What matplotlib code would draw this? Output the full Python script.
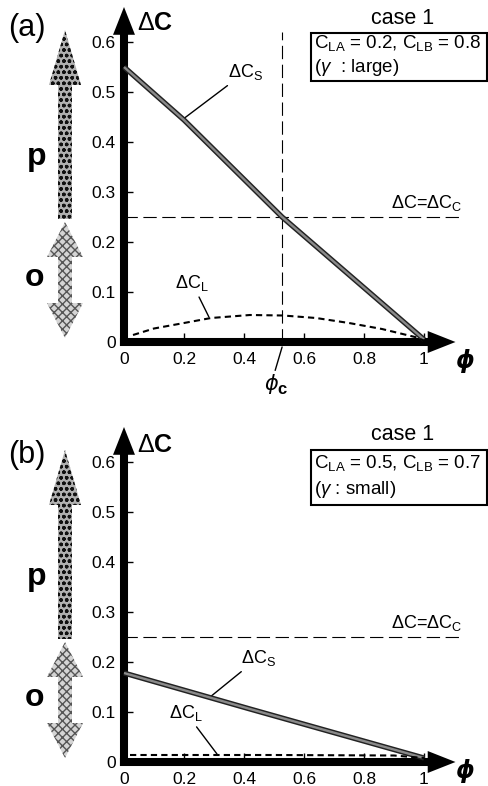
import numpy as np
import matplotlib.pyplot as plt
from matplotlib.patches import FancyArrowPatch, Polygon, Rectangle

plt.rcParams['font.family'] = ['Liberation Sans', 'DejaVu Sans']
plt.rcParams['mathtext.fontset'] = 'custom'
plt.rcParams['mathtext.rm'] = 'Liberation Sans'
plt.rcParams['mathtext.it'] = 'Liberation Sans:italic'
plt.rcParams['mathtext.bf'] = 'Liberation Sans:bold'

# ticks
x_ticks = [0, 0.2, 0.4, 0.6, 0.8, 1.0]
x_labels = ['0', '0.2', '0.4', '0.6', '0.8', '1']
y_ticks = [0, 0.1, 0.2, 0.3, 0.4, 0.5, 0.6]
y_labels = ['0', '0.1', '0.2', '0.3', '0.4', '0.5', '0.6']

dc_crit = 0.25      # dC = dC_c
phi_c = 0.527

# (a) C_LA = 0.2, C_LB = 0.8
phi_s_a = [0.0, 0.2, 0.527, 1.0]
dcs_a = [0.55, 0.444, 0.25, 0.005]
phi_l_a = [0.03, 0.1, 0.2, 0.29, 0.42, 0.53, 0.64, 0.75, 0.86, 0.97, 1.0]
dcl_a = [0.014, 0.027, 0.038, 0.048, 0.054, 0.053, 0.048, 0.038, 0.026, 0.01, 0.003]

# (b) C_LA = 0.5, C_LB = 0.7
phi_s_b = [0.0, 0.42, 1.0]
dcs_b = [0.178, 0.106, 0.008]
phi_l_b = [0.02, 0.5, 0.9, 1.0]
dcl_b = [0.014, 0.014, 0.013, 0.008]

box_a = [r'$\mathrm{C_{LA}}$ = 0.2, $\mathrm{C_{LB}}$ = 0.8', r'($\gamma$  : large)']
box_b = [r'$\mathrm{C_{LA}}$ = 0.5, $\mathrm{C_{LB}}$ = 0.7', r'($\gamma$ : small)']

W, H = 489, 786
fig = plt.figure(figsize=(W / 100, H / 100), dpi=100)


def make_axes(y0_px, phi_y):
    # y0_px: pixel row (from top) of y=0
    bottom = (H - (y0_px + 20)) / H
    ax = fig.add_axes([94 / W, bottom, 390 / W, 360 / H])
    ax.set_xlim(-0.1, 1.2)
    ax.set_ylim(-0.04, 0.68)
    ax.patch.set_alpha(0)
    for s in ['top', 'right']:
        ax.spines[s].set_visible(False)
    ax.spines['left'].set_position(('data', 0))
    ax.spines['bottom'].set_position(('data', 0))
    ax.spines['left'].set_visible(False)
    ax.spines['bottom'].set_visible(False)
    ax.set_xticks(x_ticks)
    ax.set_xticklabels(x_labels)
    ax.set_yticks(y_ticks)
    ax.set_yticklabels(y_labels)
    ax.tick_params(direction='in', length=6.5, width=1, labelsize=12.5)
    ax.tick_params(axis='x', pad=7)
    ax.tick_params(axis='y', pad=6)
    # thick arrow axes
    st = 'simple,head_width=1.58,head_length=2.0,tail_width=0.58'
    ax.add_patch(FancyArrowPatch((0, -0.008), (0, 0.67), arrowstyle=st,
                                 mutation_scale=10, color='black', lw=0,
                                 shrinkA=0, shrinkB=0, zorder=4, clip_on=False))
    ax.add_patch(FancyArrowPatch((-0.0135, 0), (1.105, 0), arrowstyle=st,
                                 mutation_scale=10, color='black', lw=0,
                                 shrinkA=0, shrinkB=0, zorder=4, clip_on=False))
    ax.text(1.135, phi_y, 'ϕ', family='DejaVu Sans', style='italic',
            fontweight='bold', fontsize=17, ha='center', va='center')
    return ax


def draw_curves(ax, ps, s, pl, l):
    ax.plot(ps, s, color='#222222', lw=3.8, solid_capstyle='butt', zorder=5)
    ax.plot(ps, s, color='#8a8a8a', lw=1.7, solid_capstyle='butt', zorder=5)
    ax.plot(pl, l, color='black', lw=1.5, dashes=(3, 2), zorder=5)
    ax.plot([0, 1.127], [dc_crit, dc_crit], color='black', lw=0.8, dashes=(12, 5))
    ax.text(1.127, dc_crit + 0.008, r'$\Delta$C=$\Delta$$\mathrm{C_C}$', ha='right',
            va='bottom', fontsize=13)


ax_a = make_axes(342, -0.038)
draw_curves(ax_a, phi_s_a, dcs_a, phi_l_a, dcl_a)
ax_a.plot([phi_c, phi_c], [0, 0.62], color='black', lw=0.8, dashes=(12, 5))
ax_a.annotate(r'$\Delta$$\mathrm{C_S}$', xy=(0.193, 0.444), xytext=(0.405, 0.54),
              ha='center', va='center', fontsize=13,
              arrowprops=dict(arrowstyle='-', lw=1, color='black', shrinkA=1, shrinkB=0))
ax_a.annotate(r'$\Delta$$\mathrm{C_L}$', xy=(0.283, 0.05), xytext=(0.227, 0.118),
              ha='center', va='center', fontsize=13,
              arrowprops=dict(arrowstyle='-', lw=1, color='black', shrinkA=1, shrinkB=0))
ax_a.annotate('ϕ', xy=(0.527, -0.01), xytext=(0.49, -0.085),
              ha='center', va='center', fontsize=15, family='DejaVu Sans', style='italic',
              arrowprops=dict(arrowstyle='-', lw=1, color='black', shrinkA=1, shrinkB=0))
ax_a.text(0.527, -0.095, 'c', fontsize=12, fontweight='bold', ha='center', va='center')

ax_b = make_axes(762, -0.018)
draw_curves(ax_b, phi_s_b, dcs_b, phi_l_b, dcl_b)
ax_b.annotate(r'$\Delta$$\mathrm{C_S}$', xy=(0.287, 0.13), xytext=(0.447, 0.208),
              ha='center', va='center', fontsize=13,
              arrowprops=dict(arrowstyle='-', lw=1, color='black', shrinkA=1, shrinkB=0))
ax_b.annotate(r'$\Delta$$\mathrm{C_L}$', xy=(0.31, 0.016), xytext=(0.207, 0.098),
              ha='center', va='center', fontsize=13,
              arrowprops=dict(arrowstyle='-', lw=1, color='black', shrinkA=1, shrinkB=0))

# overlay in pixel coordinates for the decorations
ov = fig.add_axes([0, 0, 1, 1])
ov.set_xlim(0, W)
ov.set_ylim(H, 0)
ov.axis('off')


def up_arrow(cx, tip, head, bot):
    return [(cx, tip), (cx + 16, head), (cx + 7, head), (cx + 7, bot),
            (cx - 7, bot), (cx - 7, head), (cx - 16, head)]


def dbl_arrow(cx, top, th, bh, bot):
    return [(cx, top), (cx + 18, th), (cx + 7, th), (cx + 7, bh), (cx + 18, bh),
            (cx, bot), (cx - 18, bh), (cx - 7, bh), (cx - 7, th), (cx - 18, th)]


for dy, label, box, bh, l1, l2 in [(0, '(a)', box_a, 48, 43, 68), (420, '(b)', box_b, 55, 463 - 420, 490 - 420)]:
    ov.text(27, 28 + dy * 1.017, label, fontsize=22, ha='center', va='center')
    ov.text(137, 23 + dy * 1.005, r'$\Delta\mathbf{C}$', fontsize=18, ha='left', va='center')
    ov.add_patch(Polygon(up_arrow(65, 30 + dy, 85 + dy, 219 + dy), closed=True,
                         facecolor='#b0b0b0', edgecolor='#111111', hatch='ooo', lw=0))
    ov.add_patch(Polygon(dbl_arrow(65, 222 + dy, 257 + dy, 303 + dy, 338 + dy), closed=True,
                         facecolor='#d4d4d4', edgecolor='#555555', hatch='xxxx', lw=0))
    ov.text(37, 157 + dy, 'p', fontsize=23, fontweight='bold', ha='center', va='center')
    ov.text(35, 278 + dy, 'o', fontsize=23, fontweight='bold', ha='center', va='center')
    top = 33 if dy == 0 else 450
    ov.text(403, top - 15, 'case 1', fontsize=15.5, ha='center', va='center')
    ov.add_patch(Rectangle((311, top), 176, bh, facecolor='none', edgecolor='black', lw=1.5))
    ov.text(314, l1 + dy, box[0], fontsize=13.5, ha='left', va='center')
    ov.text(314, l2 + dy, box[1], fontsize=13.5, ha='left', va='center')

fig.savefig('out.png', dpi=100)
